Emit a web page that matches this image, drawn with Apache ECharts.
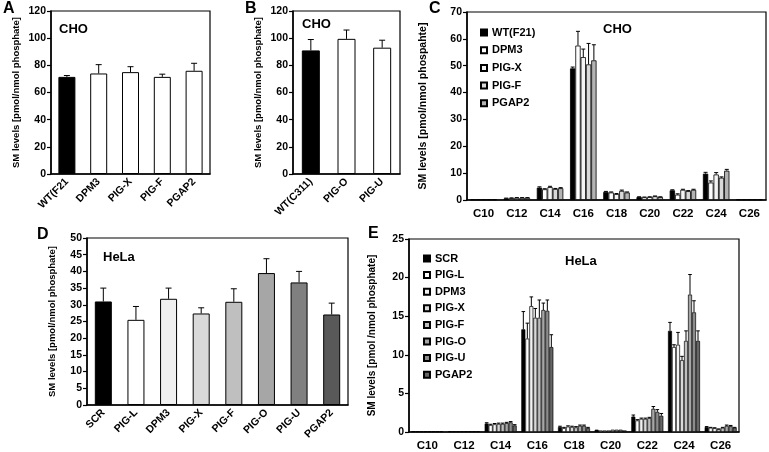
<!DOCTYPE html>
<html><head><meta charset="utf-8">
<script src="https://cdn.jsdelivr.net/npm/echarts@6/dist/echarts.min.js"></script>
<style>html,body{margin:0;padding:0;background:#fff}#c{width:769px;height:452px}</style>
</head><body><div id="c"></div>
<script>
// ---------- DATA ----------
// Panel A (CHO)
const aCats = ['WT(F21', 'DPM3', 'PIG-X', 'PIG-F', 'PGAP2'];
const aVals = [71.5, 74, 75, 71.5, 76];
const aErr  = [1, 6.5, 4, 2, 5.5];
// Panel B (CHO)
const bCats = ['WT(C311)', 'PIG-O', 'PIG-U'];
const bVals = [91, 99.5, 93];
const bErr  = [8, 6.5, 5.5];
// Panel C (CHO, chain length)
const chainCats = ['C10', 'C12', 'C14', 'C16', 'C18', 'C20', 'C22', 'C24', 'C26'];
const cNames = ['WT(F21)', 'DPM3', 'PIG-X', 'PIG-F', 'PGAP2'];
const cWT    = [0.2, 0.6, 4.6, 49.0, 3.0, 1.1, 3.6, 9.8, 0.2];
const cDPM3  = [0.2, 0.7, 4.0, 57.5, 2.8, 1.0, 2.0, 6.5, 0.2];
const cPIGX  = [0.2, 0.8, 4.8, 53.2, 2.2, 1.1, 3.8, 9.5, 0.2];
const cPIGF  = [0.2, 0.8, 4.1, 50.5, 3.4, 1.4, 3.3, 8.3, 0.2];
const cPGAP2 = [0.2, 0.8, 4.4, 52.0, 2.8, 1.1, 3.8, 10.9, 0.2];
const cWTe    = [0, 0.1, 0.3, 0.5, 0.2, 0.1, 0.2, 0.5, 0];
const cDPM3e  = [0, 0.1, 0.2, 5.3, 0.2, 0.1, 0.3, 0.6, 0];
const cPIGXe  = [0, 0.1, 0.3, 3.0, 0.2, 0.1, 0.2, 0.7, 0];
const cPIGFe  = [0, 0.1, 0.2, 7.8, 0.3, 0.1, 0.2, 0.3, 0];
const cPGAP2e = [0, 0.1, 0.2, 5.8, 0.2, 0.1, 0.2, 0.5, 0];
// Panel D (HeLa)
const dCats = ['SCR', 'PIG-L', 'DPM3', 'PIG-X', 'PIG-F', 'PIG-O', 'PIG-U', 'PGAP2'];
const dVals = [31, 25.5, 31.8, 27.4, 30.9, 39.5, 36.7, 27.1];
const dErr  = [4, 4, 3.2, 1.7, 3.9, 4.3, 3.3, 3.4];
// Panel E (HeLa, chain length)
const eNames = ['SCR', 'PIG-L', 'DPM3', 'PIG-X', 'PIG-F', 'PIG-O', 'PIG-U', 'PGAP2'];
const eSCR   = [0.1, 0.1, 1.1, 13.3, 0.65, 0.3, 2.0, 13.1, 0.65];
const ePIGL  = [0.1, 0.1, 0.9, 12.1, 0.5, 0.2, 1.5, 11.0, 0.55];
const eDPM3  = [0.1, 0.1, 1.0, 16.3, 0.7, 0.2, 1.7, 11.3, 0.5];
const ePIGX  = [0.1, 0.1, 1.05, 14.8, 0.65, 0.2, 1.7, 9.3, 0.35];
const ePIGF  = [0.1, 0.1, 1.05, 14.8, 0.6, 0.3, 1.8, 11.8, 0.55];
const ePIGO  = [0.1, 0.1, 1.15, 15.8, 0.8, 0.3, 3.0, 17.8, 0.8];
const ePIGU  = [0.1, 0.1, 1.25, 15.7, 0.8, 0.3, 2.6, 15.5, 0.75];
const ePGAP2 = [0.1, 0.1, 0.85, 11.0, 0.5, 0.2, 2.1, 11.8, 0.55];
const eSCRe   = [0, 0, 0.1, 2.3, 0.1, 0, 0.2, 1.1, 0.05];
const ePIGLe  = [0, 0, 0.1, 2.0, 0.1, 0, 0.1, 0.3, 0.05];
const eDPM3e  = [0, 0, 0.1, 1.2, 0.1, 0, 0.1, 1.6, 0.05];
const ePIGXe  = [0, 0, 0.1, 1.2, 0.1, 0, 0.1, 0.5, 0.05];
const ePIGFe  = [0, 0, 0.1, 2.3, 0.1, 0, 0.1, 1.3, 0.05];
const ePIGOe  = [0, 0, 0.1, 0.9, 0.1, 0, 0.3, 2.6, 0.1];
const ePIGUe  = [0, 0, 0.1, 1.4, 0.1, 0, 0.3, 1.5, 0.1];
const ePGAP2e = [0, 0, 0.1, 1.6, 0.1, 0, 0.3, 1.3, 0.05];

// ---------- STYLES ----------
const FONT = 'Liberation Sans, Arial, sans-serif';
const aColors = ['#000000', '#ffffff', '#ffffff', '#ffffff', '#ffffff'];
const bColors = ['#000000', '#ffffff', '#ffffff'];
const cColors = ['#000000', '#ffffff', '#f4f4f4', '#d9d9d9', '#b3b3b3'];
const dColors = ['#000000', '#ffffff', '#f0f0f0', '#d9d9d9', '#bfbfbf', '#a6a6a6', '#808080', '#595959'];
const eColors = ['#000000', '#ffffff', '#f2f2f2', '#d9d9d9', '#bfbfbf', '#a6a6a6', '#8c8c8c', '#666666'];

const grids = [
  {left: 51, top: 11, width: 159, height: 163},
  {left: 293, top: 11, width: 107, height: 163},
  {left: 467, top: 12, width: 299, height: 188},
  {left: 87, top: 238, width: 261, height: 167},
  {left: 409, top: 239, width: 330, height: 193}
].map(g => Object.assign(g, {show: true, borderColor: '#000', borderWidth: 1.2, backgroundColor: 'transparent', containLabel: false}));

function catAxis(gi, cats, rotate, fs, margin) {
  return {type: 'category', gridIndex: gi, data: cats,
    axisLine: {lineStyle: {color: '#000', width: 1.5}},
    axisTick: {length: 4, lineStyle: {color: '#000', width: 1.2}},
    axisLabel: {interval: 0, rotate: rotate, color: '#000', fontWeight: 'bold', fontSize: fs, fontFamily: FONT, margin: margin}};
}
function valAxis(gi, max, interval, name, gap, nfs) {
  return {type: 'value', gridIndex: gi, min: 0, max: max, interval: interval,
    name: name, nameLocation: 'middle', nameGap: gap,
    nameTextStyle: {color: '#000', fontWeight: 'bold', fontSize: nfs, fontFamily: FONT},
    axisLine: {show: true, lineStyle: {color: '#000', width: 1.5}},
    axisTick: {show: true, length: 4, lineStyle: {color: '#000', width: 1.2}},
    splitLine: {show: false},
    axisLabel: {color: '#000', fontWeight: 'bold', fontSize: 10.5, fontFamily: FONT, margin: 5}};
}

function errSeries(gi, vals, errs, offset, capHalf) {
  return {type: 'custom', xAxisIndex: gi, yAxisIndex: gi, z: 5, silent: true,
    data: vals.map((v, i) => [i, v, v + errs[i]]),
    renderItem: function (params, api) {
      const v = api.value(1), t = api.value(2);
      if (!(t > v)) return null;
      const p0 = api.coord([api.value(0), v]);
      const p1 = api.coord([api.value(0), t]);
      const cx = p0[0] + offset;
      return {type: 'group', children: [
        {type: 'line', shape: {x1: cx, y1: p0[1], x2: cx, y2: p1[1]}, style: {stroke: '#000', lineWidth: 1}},
        {type: 'line', shape: {x1: cx - capHalf, y1: p1[1], x2: cx + capHalf, y2: p1[1]}, style: {stroke: '#000', lineWidth: 1}}
      ]};
    }};
}

function singleBars(gi, name, vals, colors, bw) {
  return {type: 'bar', name: name, xAxisIndex: gi, yAxisIndex: gi, barWidth: bw,
    data: vals.map((v, i) => ({value: v, itemStyle: {color: colors[i]}})),
    itemStyle: {borderColor: '#000', borderWidth: 1}};
}

const series = [];
series.push(singleBars(0, 'A', aVals, aColors, 17), errSeries(0, aVals, aErr, 0, 3));
series.push(singleBars(1, 'B', bVals, bColors, 18), errSeries(1, bVals, bErr, 0, 3));
series.push(singleBars(3, 'D', dVals, dColors, 17), errSeries(3, dVals, dErr, 0, 3));

const cSets = [cWT, cDPM3, cPIGX, cPIGF, cPGAP2];
const cErrs = [cWTe, cDPM3e, cPIGXe, cPIGFe, cPGAP2e];
const cBW = 5.3;
cSets.forEach((vals, j) => {
  series.push({type: 'bar', name: 'C|' + cNames[j], xAxisIndex: 2, yAxisIndex: 2, data: vals,
    barWidth: cBW, barGap: '0%', itemStyle: {color: cColors[j], borderColor: '#000', borderWidth: 0.8}});
});
cSets.forEach((vals, j) => series.push(errSeries(2, vals, cErrs[j], (j - (cSets.length - 1) / 2) * cBW, 2)));

const eSets = [eSCR, ePIGL, eDPM3, ePIGX, ePIGF, ePIGO, ePIGU, ePGAP2];
const eErrs = [eSCRe, ePIGLe, eDPM3e, ePIGXe, ePIGFe, ePIGOe, ePIGUe, ePGAP2e];
const eBW = 4;
eSets.forEach((vals, j) => {
  series.push({type: 'bar', name: 'E|' + eNames[j], xAxisIndex: 4, yAxisIndex: 4, data: vals,
    barWidth: eBW, barGap: '0%', itemStyle: {color: eColors[j], borderColor: '#000', borderWidth: 0.7}});
});
eSets.forEach((vals, j) => series.push(errSeries(4, vals, eErrs[j], (j - (eSets.length - 1) / 2) * eBW, 1.8)));

const letterStyle = {fontSize: 16, fontWeight: 'bold', color: '#000', fontFamily: FONT};
const tagStyle = {fontSize: 13, fontWeight: 'bold', color: '#000', fontFamily: FONT};
const legendText = {fontSize: 11, fontWeight: 'bold', color: '#000', fontFamily: FONT};

const option = {
  animation: false,
  backgroundColor: '#fff',
  title: [
    {text: 'A', left: -2, top: -4, textStyle: letterStyle},
    {text: 'B', left: 240, top: -4, textStyle: letterStyle},
    {text: 'C', left: 424, top: -4, textStyle: letterStyle},
    {text: 'D', left: 32, top: 222, textStyle: letterStyle},
    {text: 'E', left: 363, top: 221, textStyle: letterStyle},
    {text: 'CHO', left: 54, top: 18, textStyle: tagStyle},
    {text: 'CHO', left: 297, top: 13, textStyle: tagStyle},
    {text: 'CHO', left: 598, top: 18, textStyle: tagStyle},
    {text: 'HeLa', left: 98, top: 246, textStyle: tagStyle},
    {text: 'HeLa', left: 560, top: 250, textStyle: tagStyle}
  ],
  legend: [
    {orient: 'vertical', left: 475, top: 22, itemWidth: 6, itemHeight: 6, itemGap: 6.7, icon: 'rect',
     data: cNames.map(n => 'C|' + n), formatter: n => n.split('|')[1], textStyle: legendText, selectedMode: false},
    {orient: 'vertical', left: 418, top: 248, itemWidth: 6, itemHeight: 6, itemGap: 5.6, icon: 'rect',
     data: eNames.map(n => 'E|' + n), formatter: n => n.split('|')[1], textStyle: legendText, selectedMode: false}
  ],
  grid: grids,
  xAxis: [
    catAxis(0, aCats, 45, 10.5, 6),
    catAxis(1, bCats, 45, 10.5, 6),
    catAxis(2, chainCats, 0, 11.5, 8),
    catAxis(3, dCats, 45, 10.5, 6),
    catAxis(4, chainCats, 0, 11.5, 8)
  ],
  yAxis: [
    valAxis(0, 120, 20, 'SM levels [pmol/nmol phosphate]', 30, 9.5),
    valAxis(1, 120, 20, 'SM levels [pmol/nmol phosphate]', 30, 9.5),
    valAxis(2, 70, 10, 'SM levels [pmol/nmol phospahte]', 38, 10.5),
    valAxis(3, 50, 5, 'SM levels [pmol/nmol phosphate]', 30, 9.5),
    valAxis(4, 25, 5, 'SM levels [pmol /nmol phosphate]', 32, 10)
  ],
  series: series
};
echarts.init(document.getElementById('c')).setOption(option);
</script></body></html>
